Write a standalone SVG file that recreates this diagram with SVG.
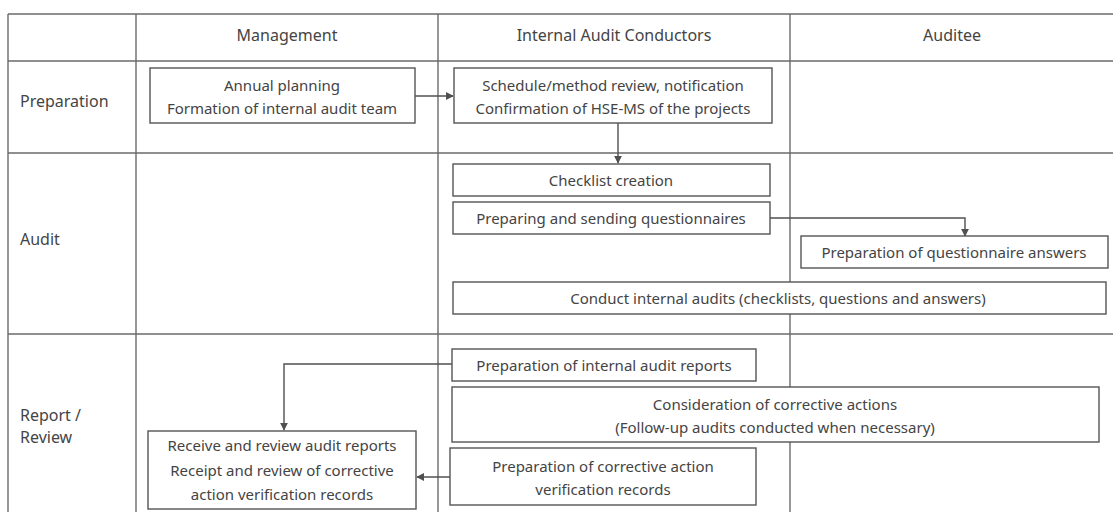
<svg xmlns="http://www.w3.org/2000/svg" width="1113" height="512" viewBox="0 0 1113 512">
<style>
.grid{stroke:#6a6a6a;stroke-width:1.4;fill:none}
.box{fill:#fff;stroke:#555;stroke-width:1.4}
.t{font-family:"Noto Sans","Open Sans","Liberation Sans",sans-serif;font-size:15px;fill:#444}
.h{font-size:16px}
.c{text-anchor:middle}
.conn{stroke:#505050;stroke-width:1.4;fill:none}
</style>
<defs>
<marker id="ah" viewBox="0 0 10 10" refX="9" refY="5" markerWidth="8" markerHeight="8" markerUnits="userSpaceOnUse" orient="auto">
<path d="M0,0 L10,5 L0,10 z" fill="#505050"/>
</marker>
</defs>
<rect width="1113" height="512" fill="#fff"/>
<g id="table">
<line class="grid" x1="8" y1="14" x2="1113" y2="14"/>
<line class="grid" x1="8" y1="61" x2="1113" y2="61"/>
<line class="grid" x1="8" y1="153" x2="1113" y2="153"/>
<line class="grid" x1="8" y1="334" x2="1113" y2="334"/>
<line class="grid" x1="8" y1="14" x2="8" y2="512"/>
<line class="grid" x1="136" y1="14" x2="136" y2="512"/>
<line class="grid" x1="438" y1="14" x2="438" y2="512"/>
<line class="grid" x1="790" y1="14" x2="790" y2="512"/>
<text class="t h c" x="287" y="41">Management</text>
<text class="t h c" x="614" y="41">Internal Audit Conductors</text>
<text class="t h c" x="952" y="41">Auditee</text>
<text class="t h" x="20" y="107">Preparation</text>
<text class="t h" x="20" y="245">Audit</text>
<text class="t h" x="20" y="421">Report /</text>
<text class="t h" x="20" y="443">Review</text>
</g>
<g id="connectors">
<line class="conn" x1="415" y1="96" x2="453" y2="96" marker-end="url(#ah)"/>
<line class="conn" x1="618" y1="123" x2="618" y2="163" marker-end="url(#ah)"/>
<polyline class="conn" points="770,218 965,218 965,236" marker-end="url(#ah)"/>
<polyline class="conn" points="452,364 284,364 284,430" marker-end="url(#ah)"/>
<line class="conn" x1="450" y1="477" x2="417" y2="477" marker-end="url(#ah)"/>
</g>
<g id="n_annual">
<rect class="box" x="150" y="68" width="265" height="55"/>
<text class="t c" x="282" y="91">Annual planning</text>
<text class="t c" x="282" y="114">Formation of internal audit team</text>
</g>
<g id="n_schedule">
<rect class="box" x="454" y="68" width="318" height="55"/>
<text class="t c" x="613" y="91">Schedule/method review, notification</text>
<text class="t c" x="613" y="114">Confirmation of HSE-MS of the projects</text>
</g>
<g id="n_checklist">
<rect class="box" x="453" y="164" width="317" height="32"/>
<text class="t c" x="611" y="186">Checklist creation</text>
</g>
<g id="n_questionnaires">
<rect class="box" x="453" y="202" width="317" height="32"/>
<text class="t c" x="611" y="224">Preparing and sending questionnaires</text>
</g>
<g id="n_answers">
<rect class="box" x="801" y="236" width="307" height="32"/>
<text class="t c" x="954" y="258">Preparation of questionnaire answers</text>
</g>
<g id="n_conduct">
<rect class="box" x="453" y="282" width="653" height="32"/>
<text class="t c" x="778" y="304">Conduct internal audits (checklists, questions and answers)</text>
</g>
<g id="n_reports">
<rect class="box" x="452" y="349" width="304" height="32"/>
<text class="t c" x="604" y="371">Preparation of internal audit reports</text>
</g>
<g id="n_consideration">
<rect class="box" x="452" y="387" width="647" height="55"/>
<text class="t c" x="775" y="410">Consideration of corrective actions</text>
<text class="t c" x="775" y="433">(Follow-up audits conducted when necessary)</text>
</g>
<g id="n_records">
<rect class="box" x="450" y="448" width="306" height="57"/>
<text class="t c" x="603" y="472">Preparation of corrective action</text>
<text class="t c" x="603" y="495">verification records</text>
</g>
<g id="n_receive">
<rect class="box" x="148" y="431" width="268" height="78"/>
<text class="t c" x="282" y="451">Receive and review audit reports</text>
<text class="t c" x="282" y="476">Receipt and review of corrective</text>
<text class="t c" x="282" y="500">action verification records</text>
</g>
</svg>
